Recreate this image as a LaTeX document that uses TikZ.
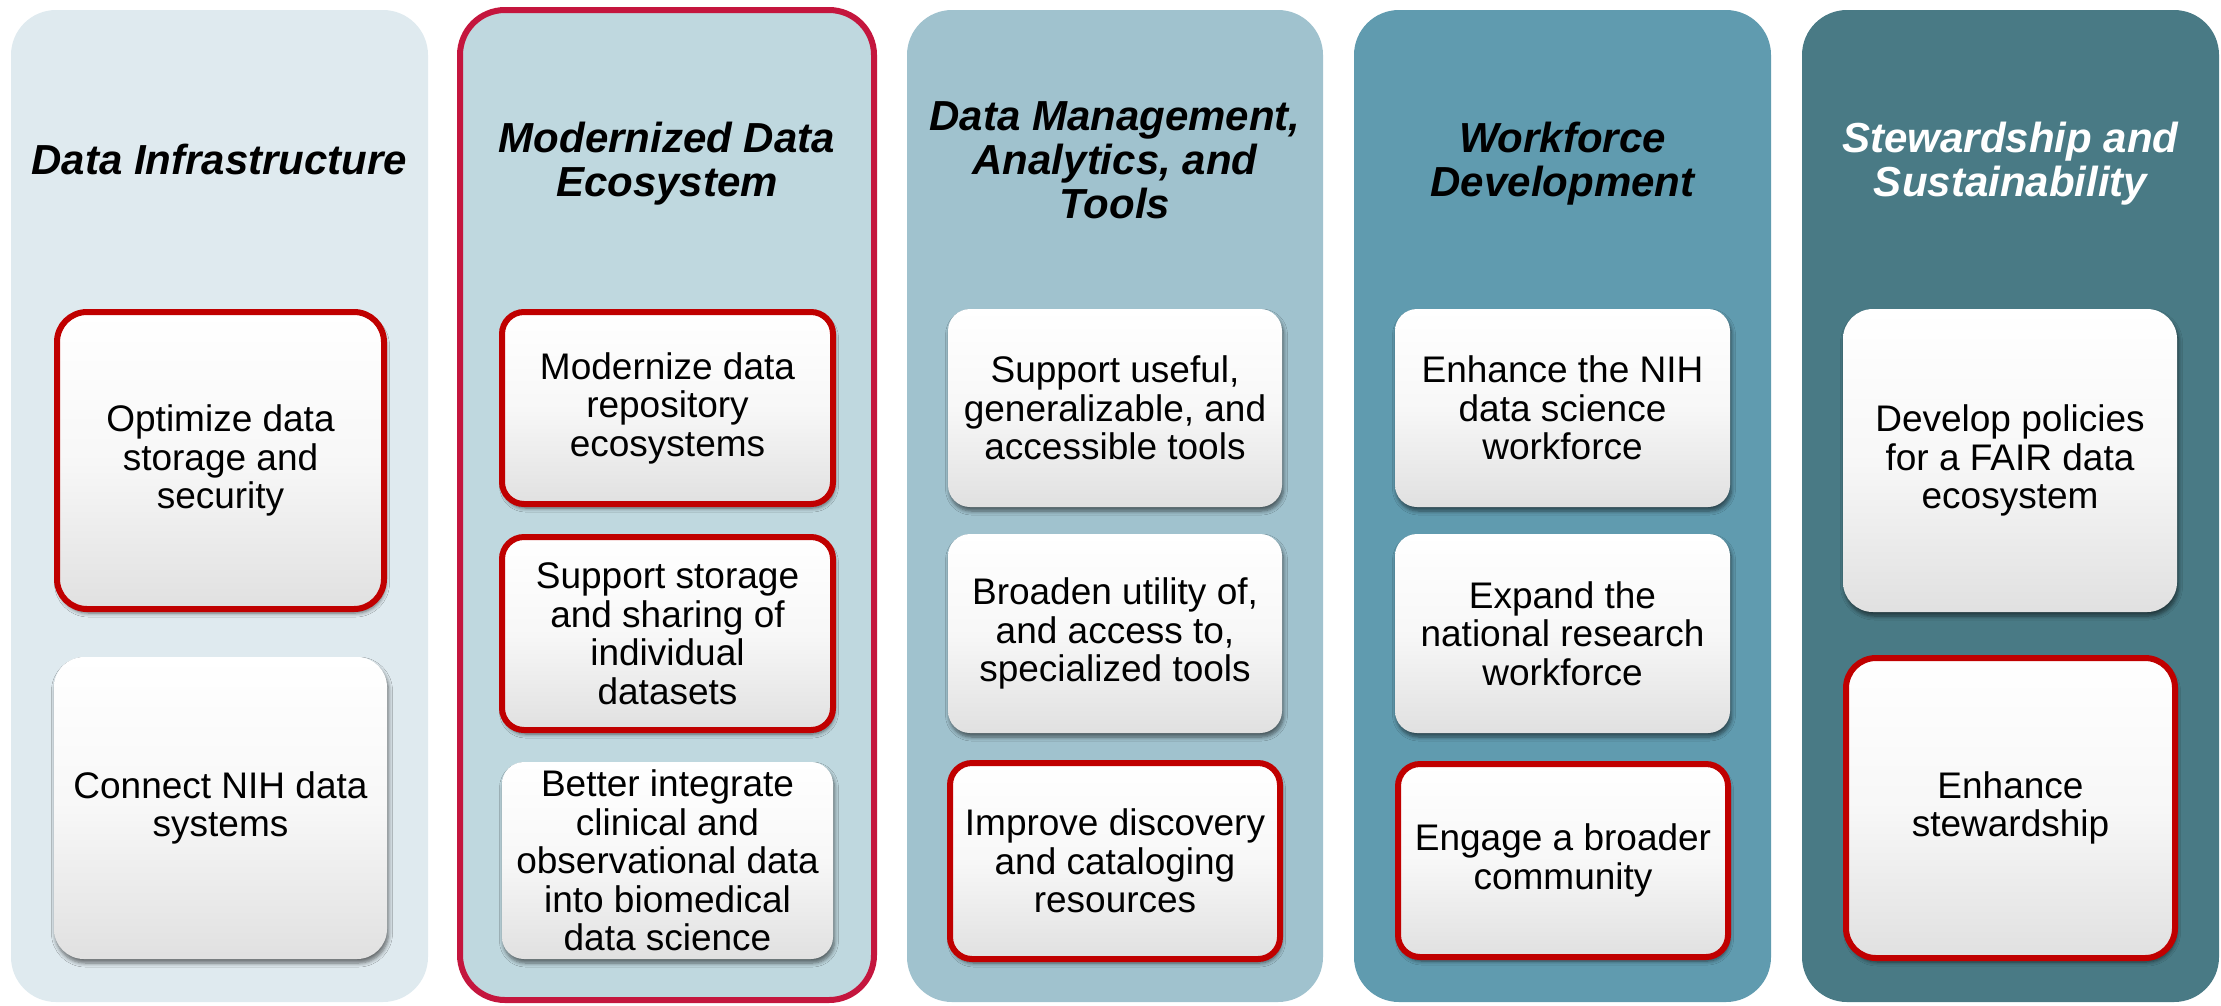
\documentclass[tikz,border=0pt]{standalone}
\usepackage{fontspec}
\setmainfont{Liberation Sans}
\usetikzlibrary{shadows.blur}
\definecolor{colA}{RGB}{223,234,239}
\definecolor{colB}{RGB}{191,216,223}
\definecolor{colC}{RGB}{160,194,206}
\definecolor{colD}{RGB}{96,155,175}
\definecolor{colE}{RGB}{73,122,133}
\definecolor{crimson}{RGB}{196,22,62}
\definecolor{boxred}{RGB}{192,0,0}
\begin{document}
\begin{tikzpicture}[x=1pt,y=-1pt,
  col/.style={rounded corners=45pt, inner sep=0pt, minimum width=417pt, minimum height=992pt},
  ttl/.style={align=center, inner sep=0pt, font=\fontsize{42}{44}\selectfont\bfseries\itshape},
  goal/.style={inner sep=0pt, align=center, font=\fontsize{37}{38.5}\selectfont,
    top color=white, bottom color=black!12, middle color=white!97!black,
    blur shadow={shadow xshift=1.5pt, shadow yshift=-4pt, shadow blur radius=4pt, shadow blur steps=6, shadow opacity=55}},
  bigbox/.style={goal, rounded corners=30pt},
  smallbox/.style={goal, rounded corners=22pt},
  hl/.style={draw=boxred, line width=6pt}]
\useasboundingbox (0,0) rectangle (2221,1005);

% columns
\node[col, fill=colA] (c1) at (219.5,506) {};
\node[col, fill=colB, draw=crimson, line width=6pt, minimum width=414pt, minimum height=990pt] (c2) at (667,505) {};
\node[col, fill=colC, minimum width=416pt] (c3) at (1115,506) {};
\node[col, fill=colD] (c4) at (1562.5,506) {};
\node[col, fill=colE] (c5) at (2010.5,506) {};

% titles
\node[ttl] (t1) at (219.5,159) {Data Infrastructure};
\node[ttl] (t2) at (667,164) {Modernized Data\\Ecosystem};
\node[ttl] (t3) at (1115,160) {Data Management,\\Analytics, and\\Tools};
\node[ttl] (t4) at (1562.5,164) {Workforce\\Development};
\node[ttl, text=white] (t5) at (2010.5,164) {Stewardship and\\Sustainability};

% column 1
\node[bigbox, hl, minimum width=327pt, minimum height=297pt] (b11) at (220.5,460.5) {Optimize data\\storage and\\security};
\node[bigbox, minimum width=333pt, minimum height=302pt] (b12) at (220.5,808) {Connect NIH data\\systems};

% column 2
\node[smallbox, hl, minimum width=331pt, minimum height=192pt] (b21) at (667.5,408) {Modernize data\\repository\\ecosystems};
\node[smallbox, hl, minimum width=331pt, minimum height=193pt] (b22) at (667.5,633.5) {Support storage\\and sharing of\\individual\\datasets};
\node[smallbox, minimum width=331pt, minimum height=197pt] (b23) at (667.5,860.5) {Better integrate\\clinical and\\observational data\\into biomedical\\data science};

% column 3
\node[smallbox, minimum width=334pt, minimum height=198pt] (b31) at (1115,408) {Support useful,\\generalizable, and\\accessible tools};
\node[smallbox, minimum width=334pt, minimum height=199pt] (b32) at (1115,633.5) {Broaden utility of,\\and access to,\\specialized tools};
\node[smallbox, hl, minimum width=330pt, minimum height=196pt] (b33) at (1115,861) {Improve discovery\\and cataloging\\resources};

% column 4
\node[smallbox, minimum width=335pt, minimum height=198pt] (b41) at (1562.5,408) {Enhance the NIH\\data science\\workforce};
\node[smallbox, minimum width=335pt, minimum height=199pt] (b42) at (1562.5,633.5) {Expand the\\national research\\workforce};
\node[smallbox, hl, minimum width=330pt, minimum height=193pt] (b43) at (1563,860.5) {Engage a broader\\community};

% column 5
\node[bigbox, minimum width=334pt, minimum height=303pt] (b51) at (2010,460.5) {Develop policies\\for a FAIR data\\ecosystem};
\node[bigbox, hl, minimum width=329pt, minimum height=300pt] (b52) at (2010.5,808) {Enhance\\stewardship};
\end{tikzpicture}
\end{document}
